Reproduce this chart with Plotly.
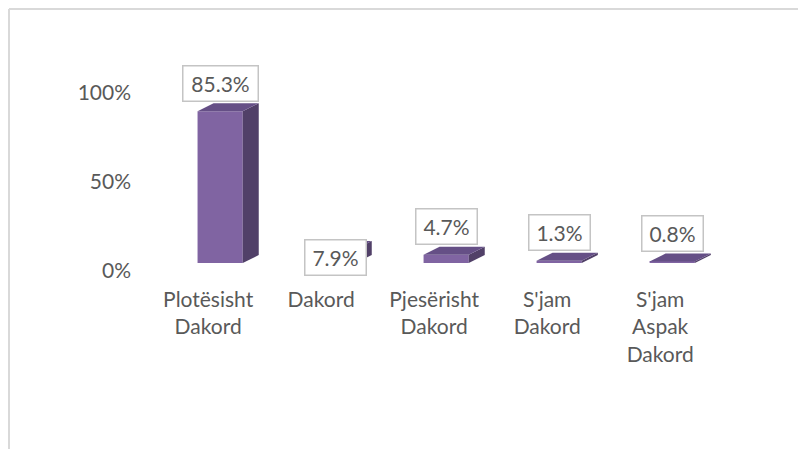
import plotly.graph_objects as go

categories = ["Plotësisht<br>Dakord", "Dakord", "Pjesërisht<br>Dakord", "S'jam<br>Dakord", "S'jam<br>Aspak<br>Dakord"]
values = [85.3, 7.9, 4.7, 1.3, 0.8]
value_labels = ["85.3%", "7.9%", "4.7%", "1.3%", "0.8%"]
y_tickvals = [0, 50, 100]
y_ticktext = ["0%", "50%", "100%"]

FRONT = "#8064A2"
SIDE = "#514068"
TOP = "#654f86"
TXT = "#595959"
FONT = "Lato"

OFF = 8                  # page body margin
W = 806 - OFF; H = 449 - OFF
L, R, T, B = 132 - OFF, 740 - OFF, 85 - OFF, 263 - OFF
bar_w = 0.4
dx = 16 / 113.0          # depth in x units
dy = 8 / 1.78            # depth in y units

xs = list(range(len(values)))
fig = go.Figure()

# front faces
fig.add_trace(go.Bar(x=xs, y=values, width=bar_w, marker=dict(color=FRONT, line=dict(width=0)),
                     hoverinfo="skip", showlegend=False))

# side and top faces (3D look)
for i, v in zip(xs, values):
    xr = i + bar_w / 2
    xl = i - bar_w / 2
    fig.add_trace(go.Scatter(x=[xr, xr + dx, xr + dx, xr, xr], y=[0, dy, v + dy, v, 0],
                             fill="toself", fillcolor=SIDE, mode="lines", line=dict(width=0),
                             hoverinfo="skip", showlegend=False))
    fig.add_trace(go.Scatter(x=[xl, xr, xr + dx, xl + dx, xl], y=[v, v, v + dy, v + dy, v],
                             fill="toself", fillcolor=TOP, mode="lines", line=dict(width=0),
                             hoverinfo="skip", showlegend=False))

# data labels
for i, (v, t) in enumerate(zip(values, value_labels)):
    shift = -9 if i == 1 else 28
    fig.add_annotation(x=i, y=v, text=t, showarrow=False, yshift=shift, xshift=2 if i == 1 else 0,
                       font=dict(family=FONT, size=21, color=TXT),
                       bgcolor="white", bordercolor="#c4c4c4", borderwidth=1.5, borderpad=5,
                       width=14 * len(t) - 6, height=24, xref="x", yref="y")

pw = R - L; ph = B - T
def px(xp): return (xp - L) / pw
def py(yp): return (B - yp) / ph

fig.add_shape(type="line", xref="paper", yref="paper", x0=px(1), x1=px(1), y0=py(1), y1=py(H + 5),
              line=dict(color="#d9d9d9", width=2))
fig.add_shape(type="line", xref="paper", yref="paper", x0=px(1), x1=px(W + 5), y0=py(1), y1=py(1),
              line=dict(color="#d9d9d9", width=2))

fig.update_layout(
    width=W, height=H,
    margin=dict(l=L, r=W - R, t=T, b=H - B),
    paper_bgcolor="white", plot_bgcolor="white",
    font=dict(family=FONT, size=21, color=TXT),
    xaxis=dict(range=[-0.78, 4.6], tickvals=xs, ticktext=categories, showgrid=False,
               zeroline=False, showline=False, ticks="", ticklabelshift=-12, ticklabelstandoff=22,
               tickfont=dict(family=FONT, size=21, color=TXT)),
    yaxis=dict(range=[0, 100], tickvals=y_tickvals, ticktext=y_ticktext, showgrid=False,
               zeroline=False, showline=False, ticks="", ticklabelshift=8,
               tickfont=dict(family=FONT, size=21, color=TXT)),
    bargap=0.6,
)

fig.write_html("out.html")
